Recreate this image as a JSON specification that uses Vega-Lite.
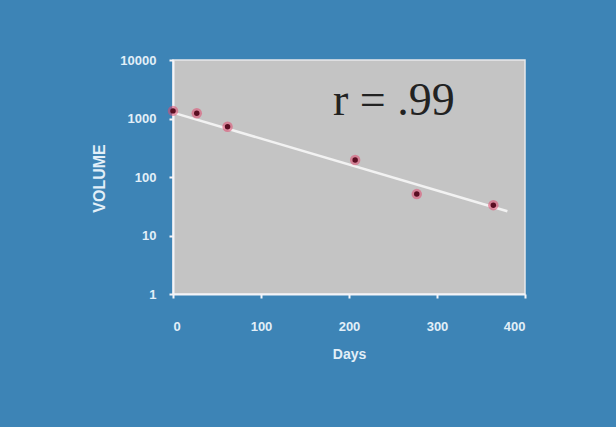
{
  "$schema": "https://vega.github.io/schema/vega-lite/v6.json",
  "width": 352,
  "height": 234,
  "autosize": "none",
  "padding": {"left": 173, "top": 60, "right": 91, "bottom": 133},
  "background": "#3d84b6",
  "config": {
    "view": {"fill": "#c4c4c4", "stroke": "#e8e8ea", "strokeWidth": 1.5},
    "axis": {
      "grid": false,
      "domainColor": "#f4f4f8",
      "domainWidth": 2,
      "tickColor": "#f4f4f8",
      "tickWidth": 2,
      "tickSize": 4,
      "labelColor": "#e2eff8",
      "labelFont": "Liberation Sans",
      "labelFontSize": 13,
      "labelFontWeight": "bold",
      "titleColor": "#e2eff8",
      "titleFont": "Liberation Sans",
      "titleFontSize": 14,
      "titleFontWeight": "bold"
    }
  },
  "datasets": {
    "points": [
      {"days": 0, "volume": 1350},
      {"days": 27, "volume": 1230},
      {"days": 62, "volume": 725},
      {"days": 207, "volume": 195},
      {"days": 277, "volume": 51},
      {"days": 364, "volume": 33}
    ],
    "trend": [
      {"days": 0, "volume": 1260},
      {"days": 380, "volume": 26}
    ],
    "note": [
      {"days": 251, "volume": 1150, "label": "r =  .99"}
    ]
  },
  "layer": [
    {
      "data": {"name": "trend"},
      "mark": {"type": "line", "color": "#f2f2f2", "strokeWidth": 2.5},
      "encoding": {
        "x": {
          "field": "days", "type": "quantitative",
          "scale": {"domain": [0, 400], "nice": false},
          "axis": {"values": [0, 100, 200, 300, 400], "title": "Days", "labelPadding": 22, "titleY": 53, "titlePadding": 0}
        },
        "y": {
          "field": "volume", "type": "quantitative",
          "scale": {"type": "log", "domain": [1, 10000], "nice": false},
          "axis": {"values": [1, 10, 100, 1000, 10000], "format": "d", "title": "VOLUME", "titleFontSize": 16, "labelPadding": 13, "titleX": -66, "titleY": 118}
        }
      }
    },
    {
      "data": {"name": "points"},
      "mark": {"type": "circle", "size": 110, "color": "#e04a70", "opacity": 0.55},
      "encoding": {
        "x": {"field": "days", "type": "quantitative"},
        "y": {"field": "volume", "type": "quantitative"}
      }
    },
    {
      "data": {"name": "points"},
      "mark": {"type": "circle", "size": 30, "color": "#5a0e22", "opacity": 1},
      "encoding": {
        "x": {"field": "days", "type": "quantitative"},
        "y": {"field": "volume", "type": "quantitative"}
      }
    },
    {
      "data": {"name": "note"},
      "mark": {"type": "text", "font": "Liberation Serif", "fontSize": 46, "color": "#222222", "align": "center", "baseline": "alphabetic"},
      "encoding": {
        "x": {"field": "days", "type": "quantitative"},
        "y": {"field": "volume", "type": "quantitative"},
        "text": {"field": "label"}
      }
    }
  ]
}
